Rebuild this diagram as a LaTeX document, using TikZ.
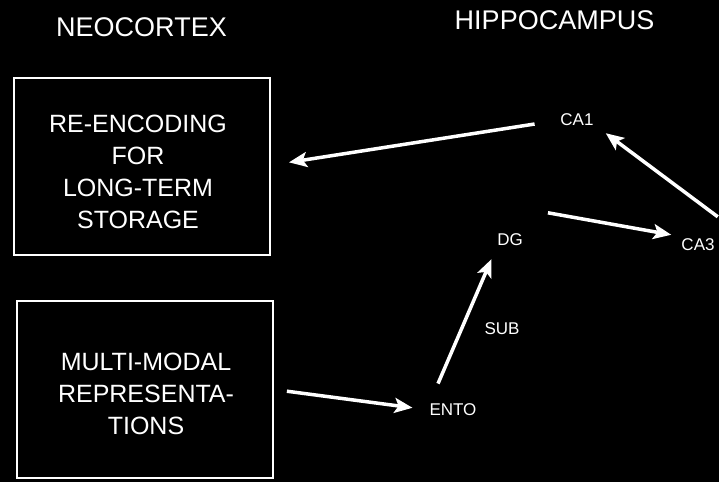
\documentclass[tikz,border=0pt]{standalone}
\usepackage{fontspec}
\setmainfont{Liberation Sans}
\usetikzlibrary{arrows.meta,positioning,calc}

\begin{document}
\begin{tikzpicture}[x=1pt,y=-1pt,
    region/.style={text=white,font=\fontsize{27}{30}\selectfont},
    store/.style={draw=white,line width=2pt,minimum width=256pt,minimum height=177pt},
    storetext/.style={text=white,align=center,font=\fontsize{25}{32}\selectfont},
    field/.style={text=white,inner sep=0pt,font=\fontsize{17}{20}\selectfont},
    flow/.style={-{Stealth[length=18pt,width=15pt,inset=4pt]},white,line width=3.5pt}]
  \fill[black] (0,0) rectangle (719,482);
  \useasboundingbox (0,0) rectangle (719,482);
  \node[region] (neo) at (141.5,27) {NEOCORTEX};
  \node[region] (hip) at (554.5,20.5) {HIPPOCAMPUS};
  \node[store] (reenc) at (142,166.5) {};
  \node[storetext] (reenctext) at ([shift={(-4pt,-5pt)}]reenc.center) {RE-ENCODING\\FOR\\LONG-TERM\\STORAGE};
  \node[store] (multi) at (145,389.5) {};
  \node[storetext] (multitext) at ([shift={(1pt,-4.5pt)}]multi.center) {MULTI-MODAL\\REPRESENTA-\\TIONS};
  \node[field] (ca1) at (577,120) {CA1};
  \node[field] (ca3) at (698,245) {CA3};
  \node[field] (dg) at (510,240) {DG};
  \node[field] (sub) at (502,329) {SUB};
  \node[field] (ento) at (453,410) {ENTO};
  \draw[flow,shorten <=26pt,shorten >=1pt] (ca1.west) -- ([xshift=17pt,yshift=4pt]reenc.east);
  \draw[flow] ([xshift=3pt,yshift=22pt]ca3.north east) -- ([xshift=12pt,yshift=-7pt]ca1.south east);
  \draw[flow] ([xshift=25pt,yshift=21pt]dg.north east) -- ([xshift=-10pt,yshift=4pt]ca3.north west);
  \draw[flow,shorten <=13pt,shorten >=17pt] (multi.east) -- (ento.west);
  \draw[flow,shorten <=22pt,shorten >=14pt] (ento.north west) -- (dg.south west);
\end{tikzpicture}
\end{document}
